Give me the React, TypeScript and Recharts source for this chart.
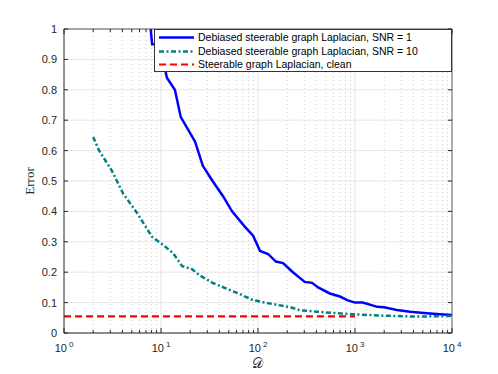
import React from 'react'
import { LineChart, Line, XAxis, YAxis, CartesianGrid, ReferenceLine, Legend } from 'recharts'

// D values (x) and error values (y)
const snr1D = [7.3, 8.1, 9.1, 10.5, 11.5, 13.9, 16, 22.4, 27, 34, 43.6, 54, 73, 89, 105, 127, 153, 181, 229, 303, 361, 417, 550, 700, 830, 1000, 1200, 1700, 2000, 2700, 3700, 5500, 7500, 10000]
const snr1Err = [1.1, 0.95, 0.95, 0.9, 0.84, 0.8, 0.71, 0.63, 0.55, 0.5, 0.45, 0.4, 0.35, 0.32, 0.27, 0.26, 0.235, 0.23, 0.2, 0.168, 0.165, 0.15, 0.13, 0.12, 0.108, 0.1, 0.1, 0.086, 0.085, 0.076, 0.07, 0.065, 0.062, 0.059]

const snr10D = [2, 2.3, 3.1, 4.05, 5.66, 8.1, 10.5, 13.3, 16.5, 20.9, 25, 34, 48, 65, 89, 143, 214, 270, 405, 890, 2000, 4400, 10000]
const snr10Err = [0.645, 0.6, 0.535, 0.46, 0.395, 0.316, 0.29, 0.263, 0.22, 0.21, 0.19, 0.165, 0.145, 0.128, 0.108, 0.095, 0.085, 0.075, 0.07, 0.062, 0.057, 0.054, 0.056]

const cleanD = [1, 1000]
const cleanErr = [0.055, 0.055]

const seriesNames = [
  'Debiased steerable graph Laplacian, SNR = 1',
  'Debiased steerable graph Laplacian, SNR = 10',
  'Steerable graph Laplacian, clean',
]
const seriesColors = ['#0000ff', '#008080', '#ff0000']
const seriesDash = [undefined, '5 2.5 2 2.5', '7 4']
const seriesWidth = [2.5, 2.5, 2.2]

const xMajorTicks = [1, 10, 100, 1000, 10000]
const xMinorTicks = [2, 3, 4, 5, 6, 7, 8, 9, 20, 30, 40, 50, 60, 70, 80, 90, 200, 300, 400, 500, 600, 700, 800, 900, 2000, 3000, 4000, 5000, 6000, 7000, 8000, 9000]
const yTicks = [0, 0.1, 0.2, 0.3, 0.4, 0.5, 0.6, 0.7, 0.8, 0.9, 1]

const zip = (xs: number[], ys: number[]) => xs.map((d, i) => ({ d, err: ys[i] }))

const snr1Data = zip(snr1D, snr1Err)
const snr10Data = zip(snr10D, snr10Err)
const cleanData = zip(cleanD, cleanErr)

const allXTicks = [...xMajorTicks, ...xMinorTicks].sort((a, b) => a - b)

const tickFont = { fontFamily: '"Liberation Sans", Arial, sans-serif', fontSize: 11, fill: '#262626' }

function BottomTick(props: any) {
  const { x, y, payload } = props
  const v = payload.value
  const major = xMajorTicks.includes(v)
  return (
    <g>
      <line x1={x} x2={x} y1={y} y2={y - (major ? 5 : 3)} stroke="#262626" />
      {major && (
        <text x={x} y={y + 19} textAnchor="middle" {...tickFont}>
          <tspan>10</tspan>
          <tspan dx={2} dy={-5} fontSize={8}>{Math.round(Math.log10(v))}</tspan>
        </text>
      )}
    </g>
  )
}

function TopTick(props: any) {
  const { x, y, payload } = props
  const major = xMajorTicks.includes(payload.value)
  return <line x1={x} x2={x} y1={y} y2={y + (major ? 5 : 3)} stroke="#262626" />
}

function LeftTick(props: any) {
  const { x, y, payload } = props
  return (
    <g>
      <line x1={x} x2={x + 4} y1={y} y2={y} stroke="#262626" />
      <text x={x - 7} y={y + 4} textAnchor="end" {...tickFont}>{String(payload.value)}</text>
    </g>
  )
}

function RightTick(props: any) {
  const { x, y } = props
  return <line x1={x} x2={x - 4} y1={y} y2={y} stroke="#262626" />
}

function LegendBox() {
  return (
    <div style={{
      width: 296, height: 40, background: '#fff', border: '1px solid #333',
      fontFamily: '"Liberation Sans", Arial, sans-serif', fontSize: 10.5, color: '#000',
      paddingTop: 1, boxSizing: 'content-box',
    }}>
      {seriesNames.map((name, i) => (
        <div key={name} style={{ display: 'flex', alignItems: 'center', height: 13.5, lineHeight: '13.5px' }}>
          <svg width={43} height={13} style={{ flexShrink: 0 }}>
            <line x1={4} x2={39} y1={6.5} y2={6.5} stroke={seriesColors[i]}
              strokeWidth={seriesWidth[i]} strokeDasharray={seriesDash[i]} />
          </svg>
          <span>{name}</span>
        </div>
      ))}
    </div>
  )
}

export default function App() {
  return (
    <div style={{ width: 498, height: 374, background: '#fff', position: 'relative' }}>
      <style>{'body{margin:0}'}</style>
      <LineChart width={498} height={374} margin={{ top: 19, right: 36, bottom: 11, left: 24 }}>
        <CartesianGrid vertical={false} stroke="#e6e6e6" />
        {xMinorTicks.map(t => (
          <ReferenceLine key={'m' + t} x={t} stroke="#cfcfcf" strokeDasharray="1 3" />
        ))}
        {xMajorTicks.slice(1, -1).map(t => (
          <ReferenceLine key={'M' + t} x={t} stroke="#e3e3e3" />
        ))}
        <XAxis dataKey="d" type="number" scale="log" domain={[1, 10000]} allowDataOverflow
          ticks={allXTicks} interval={0} height={30} tickSize={0} tickMargin={0}
          axisLine={{ stroke: '#262626' }} tick={<BottomTick />} />
        <XAxis xAxisId="top" orientation="top" dataKey="d" type="number" scale="log" domain={[1, 10000]}
          allowDataOverflow ticks={allXTicks} interval={0} height={10} tickSize={0} tickMargin={0}
          axisLine={{ stroke: '#5a5a5a' }} tick={<TopTick />} />
        <YAxis type="number" domain={[0, 1]} allowDataOverflow ticks={yTicks} interval={0} width={40}
          tickSize={0} tickMargin={0} axisLine={{ stroke: '#262626' }} tick={<LeftTick />} />
        <YAxis yAxisId="right" orientation="right" type="number" domain={[0, 1]} allowDataOverflow
          ticks={yTicks} interval={0} width={10} tickSize={0} tickMargin={0}
          axisLine={{ stroke: '#5a5a5a' }} tick={<RightTick />} />
        <Line data={snr1Data} dataKey="err" name={seriesNames[0]} stroke={seriesColors[0]}
          strokeWidth={seriesWidth[0]} dot={false} isAnimationActive={false} type="linear" />
        <Line data={snr10Data} dataKey="err" name={seriesNames[1]} stroke={seriesColors[1]}
          strokeWidth={seriesWidth[1]} strokeDasharray={seriesDash[1]} dot={false} isAnimationActive={false} type="linear" />
        <Line data={cleanData} dataKey="err" name={seriesNames[2]} stroke={seriesColors[2]}
          strokeWidth={seriesWidth[2]} strokeDasharray={seriesDash[2]} dot={false} isAnimationActive={false} type="linear" />
        <Legend layout="horizontal" align="center" verticalAlign="middle"
          wrapperStyle={{ top: 29, left: 154, width: 'auto' }} content={() => <LegendBox />} />
        <text x={29} y={181} transform="rotate(-90 29 181)" textAnchor="middle" dominantBaseline="central"
          fontFamily='"Liberation Serif", "Times New Roman", serif' fontSize={13} fill="#262626">Error</text>
        <text x={257} y={368} textAnchor="middle"
          fontFamily='"DejaVu Serif", "DejaVu Sans", serif' fontSize={14} fill="#262626">𝒟</text>
      </LineChart>
    </div>
  )
}
